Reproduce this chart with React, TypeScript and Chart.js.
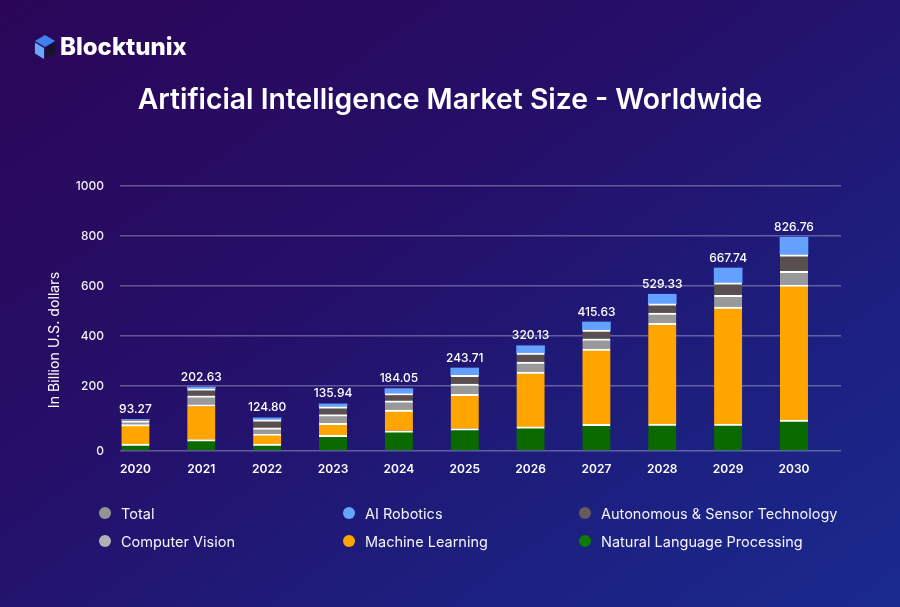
import React, { useEffect, useRef } from "react";
import { Chart, LinearScale, registerables } from "chart.js";

const years = [2020, 2021, 2022, 2023, 2024, 2025, 2026, 2027, 2028, 2029, 2030];
const totals = [93.27, 202.63, 124.8, 135.94, 184.05, 243.71, 320.13, 415.63, 529.33, 667.74, 826.76];
const nlp = [21, 35, 21, 48, 62, 69, 74, 82, 83, 83, 95];
const machineLearning = [60, 108, 32, 37, 64, 105, 182, 266, 368, 433, 510];
const computerVision = [12, 27, 18, 27, 28, 34, 40, 41, 41, 47, 54];
const autonomous = [2, 21, 25, 24, 23, 35, 36, 35, 37, 50, 66];
const robotics = [2, 6, 6, 9, 15, 29, 29, 32, 38, 59, 70];
const yTicks = [0, 200, 400, 600, 800, 1000];
const yAxisTitle = "In Billion U.S. dollars";
const legendRows = [
  [["Total", "#949494"], ["AI Robotics", "#67a4ff"], ["Autonomous & Sensor Technology", "#675c5c"]],
  [["Computer Vision", "#b2b2b2"], ["Machine Learning", "#ffa500"], ["Natural Language Processing", "#0e7a00"]],
];

const FONT = "Inter, 'Noto Sans', sans-serif";

class PiecewiseScale extends LinearScale {
  static id = "piecewise";
  static defaults = {};
  getPixelForValue(value: number) {
    if (value === null || value === undefined) return NaN;
    const knee = 65 / 265;
    const dec = value <= 200 ? (value / 200) * knee : knee + ((value - 200) / 800) * (1 - knee);
    return this.getPixelForDecimal(dec);
  }
  getValueForPixel(pixel: number) {
    const knee = 65 / 265;
    const dec = this.getDecimalForPixel(pixel);
    return dec <= knee ? (dec / knee) * 200 : 200 + ((dec - knee) / (1 - knee)) * 800;
  }
}

Chart.register(...registerables, PiecewiseScale);

const totalLabels = {
  id: "totalLabels",
  afterDatasetsDraw(chart: any) {
    const { ctx } = chart;
    const topMeta = chart.getDatasetMeta(4);
    ctx.save();
    ctx.font = `500 12px ${FONT}`;
    ctx.fillStyle = "#ffffff";
    ctx.textAlign = "center";
    ctx.textBaseline = "middle";
    totals.forEach((t, i) => {
      const bar = topMeta.data[i];
      ctx.fillText(t.toFixed(2), bar.x, bar.y - 10);
    });
    ctx.translate(55, 340);
    ctx.rotate(-Math.PI / 2);
    ctx.font = `400 14.2px ${FONT}`;
    ctx.fillText(yAxisTitle, 0, 0);
    ctx.restore();
  },
};

function series(label: string, values: number[], color: string, separator: boolean) {
  return {
    type: "bar" as const,
    label,
    data: years.map((y, i) => ({ x: y, y: values[i] })),
    backgroundColor: color,
    borderColor: "#ffffff",
    borderWidth: separator ? { top: 2, left: 0, right: 0, bottom: 0 } : 0,
    borderSkipped: false,
    barThickness: 28,
    stack: "market",
  };
}

export default function App() {
  const ref = useRef<HTMLCanvasElement>(null);
  useEffect(() => {
    const chart = new Chart(ref.current!, {
      type: "bar",
      data: {
        datasets: [
          series("Natural Language Processing", nlp, "#0a6a00", true),
          series("Machine Learning", machineLearning, "#ffa500", true),
          series("Computer Vision", computerVision, "#999999", true),
          series("Autonomous & Sensor Technology", autonomous, "#594f4f", true),
          series("AI Robotics", robotics, "#63a0ff", false),
        ],
      } as any,
      options: {
        animation: false,
        responsive: false,
        layout: { padding: { left: 45, right: 59, top: 186, bottom: 126 } },
        plugins: { legend: { display: false }, tooltip: { enabled: false } },
        scales: {
          x: {
            type: "linear",
            offset: false,
            stacked: true,
            min: 2019.765,
            max: 2030.714,
            afterBuildTicks: (axis: any) => {
              axis.ticks = years.map((y) => ({ value: y }));
            },
            afterFit: (axis: any) => {
              axis.height = 30;
            },
            grid: { display: false },
            border: { display: false },
            ticks: {
              autoSkip: false,
              maxRotation: 0,
              padding: 3,
              color: "#ffffff",
              font: { family: FONT, size: 12, weight: 600 },
              callback: (v: any) => String(v),
            },
          },
          y: {
            type: "piecewise",
            stacked: true,
            min: 0,
            max: 1000,
            afterBuildTicks: (axis: any) => {
              axis.ticks = yTicks.map((v) => ({ value: v }));
            },
            afterFit: (axis: any) => {
              axis.width = 75;
            },
            grid: { color: "rgba(255,255,255,0.3)", lineWidth: 1.5, drawTicks: false },
            border: { display: false },
            ticks: {
              padding: 16,
              color: "#f0f0f5",
              font: { family: FONT, size: 12, weight: 500 },
              callback: (v: any) => String(v),
            },
          } as any,
        },
      },
      plugins: [totalLabels],
    } as any);
    return () => chart.destroy();
  }, []);

  const colX = [105, 349, 585];
  const rowY = [513, 541];
  return (
    <div
      style={{
        position: "absolute",
        left: 0,
        top: 0,
        width: 900,
        height: 607,
        overflow: "hidden",
        background: "linear-gradient(145deg, #2b0658 0%, #250f68 40%, #1c2080 75%, #1a2a8e 100%)",
        fontFamily: FONT,
        color: "#fff",
      }}
    >
      <canvas ref={ref} width={900} height={607} style={{ position: "absolute", left: 0, top: 0, display: "block" }} />
      <svg width="22" height="26" viewBox="0 0 24 28" style={{ position: "absolute", left: 34, top: 34 }}>
        <polygon points="12,1 23,7.5 12,14 1,7.5" fill="#3f80f0" />
        <polygon points="1,9 11,15 11,27 1,21" fill="#6aa8ff" />
        <polygon points="13,15 23,9 23,21 13,27" fill="#15122e" />
      </svg>
      <div style={{ position: "absolute", left: 60, top: 32, fontSize: 24, fontWeight: 800, lineHeight: "30px", whiteSpace: "nowrap" }}>
        Blocktunix
      </div>
      <div
        style={{
          position: "absolute",
          left: 0,
          width: 900,
          top: 80,
          textAlign: "center",
          fontSize: 28.3,
          fontWeight: 600,
          lineHeight: "38px",
          whiteSpace: "nowrap",
        }}
      >
        Artificial Intelligence Market Size - Worldwide
      </div>
      {legendRows.map((row, r) =>
        row.map(([name, color], c) => (
          <React.Fragment key={name}>
            <div
              style={{
                position: "absolute",
                left: colX[c] - 6,
                top: rowY[r] - 6,
                width: 12,
                height: 12,
                borderRadius: 6,
                background: color,
              }}
            />
            <div
              style={{
                position: "absolute",
                left: colX[c] + 16,
                top: rowY[r] - 10,
                fontSize: 14.5,
                lineHeight: "22px",
                color: "#f2f2fa",
                whiteSpace: "nowrap",
              }}
            >
              {name}
            </div>
          </React.Fragment>
        )),
      )}
    </div>
  );
}
